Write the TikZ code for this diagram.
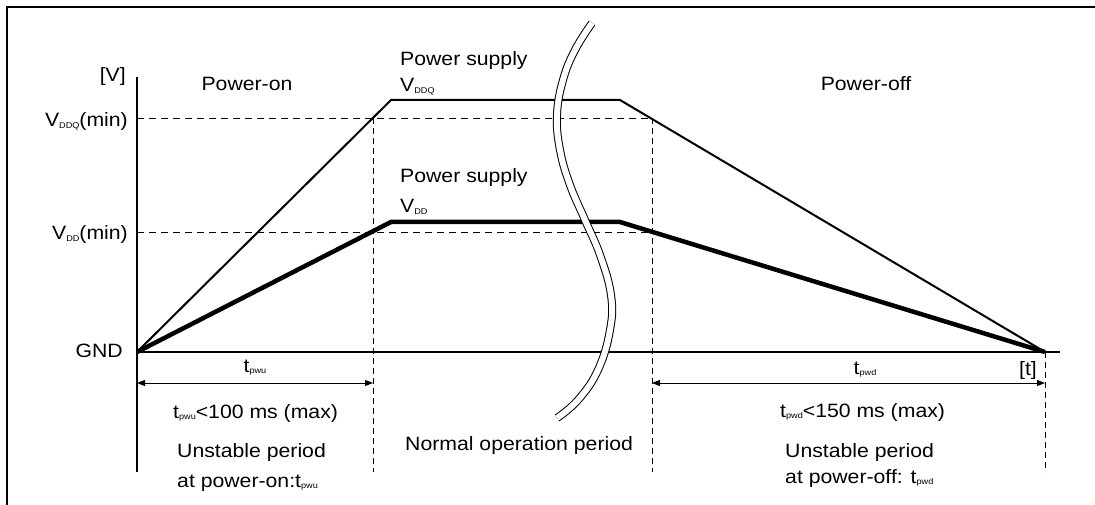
\documentclass[tikz,border=0pt]{standalone}
\usepackage{fontspec}
\setmainfont{Liberation Sans}[FakeStretch=1.1]
\usetikzlibrary{arrows.meta}
\newcommand\sbs[1]{\raisebox{-1.8pt}{\fontsize{8.3}{9}\selectfont #1}}
\begin{document}
\begin{tikzpicture}[x=1pt,y=-1pt,
  lbl/.style={inner sep=0pt, font=\fontsize{19.3}{21}\selectfont},
  thinsig/.style={line width=2pt, line join=miter},
  thicksig/.style={line width=4.5pt, line join=miter},
  guide/.style={line width=0.9pt, dash pattern=on 7pt off 5pt},
  vguide/.style={line width=0.9pt, dash pattern=on 6pt off 4pt},
  axisline/.style={line width=1.4pt},
  dimarr/.style={line width=1pt, {Triangle[length=8pt,width=6pt]}-{Triangle[length=8pt,width=6pt]}},
  framel/.style={line width=2.2pt},
  breakl/.style={line width=1pt, double=white, double distance=6pt}
]
\useasboundingbox (0,0) rectangle (1095,505);
% frame
\draw[framel] (6.8,505) -- (6.8,6.8) -- (1095,6.8);
% key points
\coordinate (O) at (137,352);
\coordinate (Vtop) at (137,77);
\coordinate (Vbot) at (137,472);
\coordinate (Tend) at (1060,352);
\coordinate (Qa) at (391,100);
\coordinate (Qb) at (620,100);
\coordinate (Da) at (391,222);
\coordinate (Db) at (620,222);
\coordinate (E) at (1045,352);
\coordinate (Qmin0) at (137,118);
\coordinate (Qmin1) at (652,118);
\coordinate (Dmin0) at (137,232);
\coordinate (Dmin1) at (652,232);
\coordinate (P1t) at (373,118);
\coordinate (P1b) at (373,472);
\coordinate (P2b) at (652,472);
\coordinate (P3b) at (1045,472);
\coordinate (A1l) at (137,383);
\coordinate (A1r) at (373,383);
\coordinate (A2l) at (652,383);
\coordinate (A2r) at (1045,383);
% guides
\draw[guide] (Qmin0) -- (Qmin1);
\draw[guide] (Dmin0) -- (Dmin1);
\draw[vguide] (P1t) -- (P1b);
\draw[vguide] (Qmin1) -- (P2b);
\draw[vguide] (E) -- (P3b);
% axes
\draw[axisline] (Vtop) -- (Vbot);
\draw[axisline] (O) -- (Tend);
% signals
\draw[thinsig] (O) -- (Qa) -- (Qb) -- (E);
\draw[thicksig] (O) -- (Da) -- (Db) -- (E);
% break
\draw[breakl] plot[smooth, tension=0.7] coordinates {(592,23) (575,50) (563,80) (557,115) (560,150) (570,185) (585,220) (600,255) (611,295) (610,330) (598,370) (578,400) (557,418)};
% dimension arrows
\draw[dimarr] (A1l) -- (A1r);
\draw[dimarr] (A2l) -- (A2r);
% labels
\node[lbl, anchor=base east] (lV) at (126,82) {[V]};
\node[lbl, anchor=base] (lPon) at (247,91) {Power-on};
\node[lbl, anchor=base] (lPoff) at (866,91) {Power-off};
\node[lbl, anchor=base east] (lQmin) at (128,127) {V\sbs{DDQ}(min)};
\node[lbl, anchor=base east] (lDmin) at (128,240) {V\sbs{DD}(min)};
\node[lbl, anchor=base east] (lGND) at (123,357) {GND};
\node[lbl, anchor=base west] (lPS1) at (400,66) {Power supply};
\node[lbl, anchor=base west] (lQ) at (400,92) {V\sbs{DDQ}};
\node[lbl, anchor=base west] (lPS2) at (400,183) {Power supply};
\node[lbl, anchor=base west] (lD) at (400,213) {V\sbs{DD}};
\node[lbl, anchor=base] (ltu) at (255,372) {t\sbs{pwu}};
\node[lbl, anchor=base] (ltd) at (865,374) {t\sbs{pwd}};
\node[lbl, anchor=base east] (lt) at (1037,375) {[t]};
\node[lbl, anchor=base west] (ltu2) at (173,418) {t\sbs{pwu}<100 ms (max)};
\node[lbl, anchor=base west] (ltd2) at (780,417) {t\sbs{pwd}<150 ms (max)};
\node[lbl, anchor=base west] (lU1) at (177,457) {Unstable period};
\node[lbl, anchor=base west] (lU1b) at (177,487) {at power-on:t\sbs{pwu}};
\node[lbl, anchor=base west] (lN) at (405,450) {Normal operation period};
\node[lbl, anchor=base west] (lU2) at (785,457) {Unstable period};
\node[lbl, anchor=base west] (lU2b) at (785,483) {at power-off: t\sbs{pwd}};
\end{tikzpicture}
\end{document}
